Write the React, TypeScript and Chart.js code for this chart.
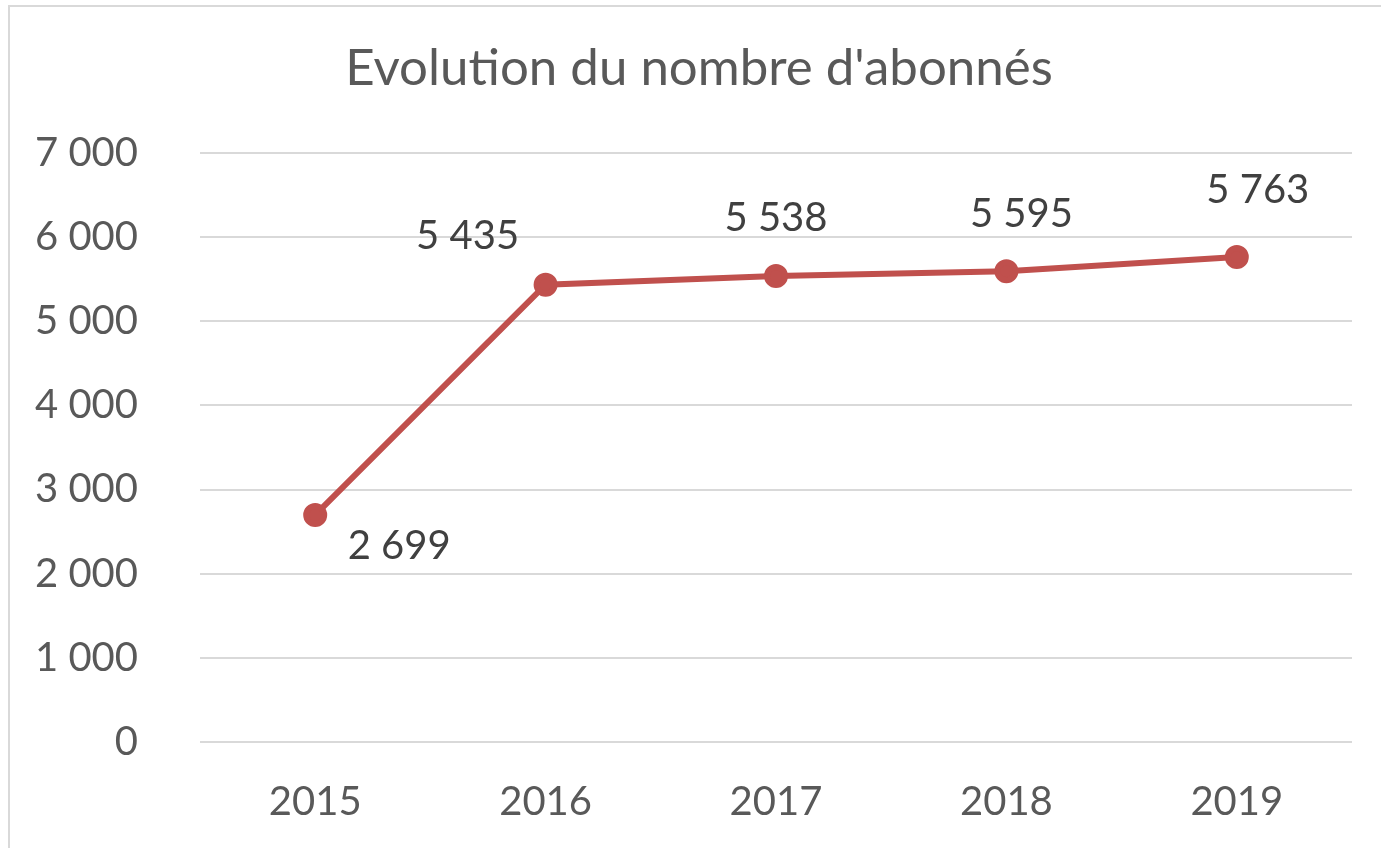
import React, { useEffect, useRef } from "react";
import { Chart, registerables } from "chart.js";

Chart.register(...registerables);

const titleText = "Evolution du nombre d'abonnés";
const years = ["2015", "2016", "2017", "2018", "2019"];
const subscribers = [2699, 5435, 5538, 5595, 5763];
const labelOffsets = [
  [84, 31],
  [-78, -49],
  [0, -58],
  [15, -57],
  [21, -67],
];

const FONT = "Lato, 'Open Sans', sans-serif";
const TITLE_SIZE = 51;
const fmt = (v: number) => {
  const s = Math.round(v).toString();
  return s.replace(/\B(?=(\d{3})+(?!\d))/g, " ");
};

const dataLabelPlugin = {
  id: "dataLabels",
  afterDatasetsDraw(chart: any) {
    const meta = chart.getDatasetMeta(0);
    const ctx = chart.ctx;
    ctx.save();
    ctx.font = `40px ${FONT}`;
    ctx.fillStyle = "#404040";
    ctx.textAlign = "center";
    ctx.textBaseline = "middle";
    meta.data.forEach((pt: any, i: number) => {
      const [dx, dy] = labelOffsets[i];
      ctx.fillText(fmt(subscribers[i]), pt.x + dx, pt.y + dy);
    });
    // title, centred on the whole frame
    const tb = chart.titleBlock;
    ctx.font = `${TITLE_SIZE}px ${FONT}`;
    ctx.fillStyle = "#595959";
    ctx.fillText(titleText, 689, tb.top + 31 + (TITLE_SIZE * 1.2) / 2);
    ctx.restore();
  },
};

export default function App() {
  const ref = useRef<HTMLCanvasElement>(null);
  useEffect(() => {
    if (!ref.current) return;
    const chart = new Chart(ref.current, {
      type: "line",
      data: {
        labels: years,
        datasets: [
          {
            data: subscribers,
            borderColor: "#c0504d",
            backgroundColor: "#c0504d",
            borderWidth: 6,
            pointRadius: 9,
            pointHoverRadius: 9,
            pointBackgroundColor: "#c0504d",
            pointBorderColor: "#c0504d",
            tension: 0,
          },
        ],
      },
      options: {
        responsive: false,
        animation: false,
        layout: { padding: { left: 0, right: 29, top: 0, bottom: 0 } },
        plugins: {
          legend: { display: false },
          tooltip: { enabled: false },
          title: {
            display: true,
            text: titleText,
            color: "rgba(0,0,0,0)",
            font: { family: FONT, size: TITLE_SIZE, weight: "normal" },
            padding: { top: 31, bottom: 53.8 },
          },
        },
        scales: {
          x: {
            offset: true,
            grid: { display: false, drawTicks: false },
            border: { display: false },
            ticks: {
              color: "#595959",
              font: { family: FONT, size: 40 },
              padding: 36,
            },
            afterFit: (s: any) => {
              s.height = 106;
            },
          },
          y: {
            min: 0,
            max: 7000,
            ticks: {
              stepSize: 1000,
              color: "#595959",
              font: { family: FONT, size: 40 },
              padding: 62,
              callback: (v: any) => fmt(Number(v)),
            },
            grid: { color: "#d9d9d9", lineWidth: 2, drawTicks: false },
            border: { display: false },
            afterFit: (s: any) => {
              s.width = 190;
            },
          },
        },
      },
      plugins: [dataLabelPlugin],
    });
    return () => chart.destroy();
  }, []);
  return (
    <div
      style={{
        position: "fixed",
        left: 8,
        top: 5,
        width: 1400,
        height: 870,
        border: "2px solid #d9d9d9",
        background: "#fff",
        boxSizing: "border-box",
      }}
    >
      <canvas ref={ref} width={1371} height={841} style={{ display: "block" }} />
    </div>
  );
}
